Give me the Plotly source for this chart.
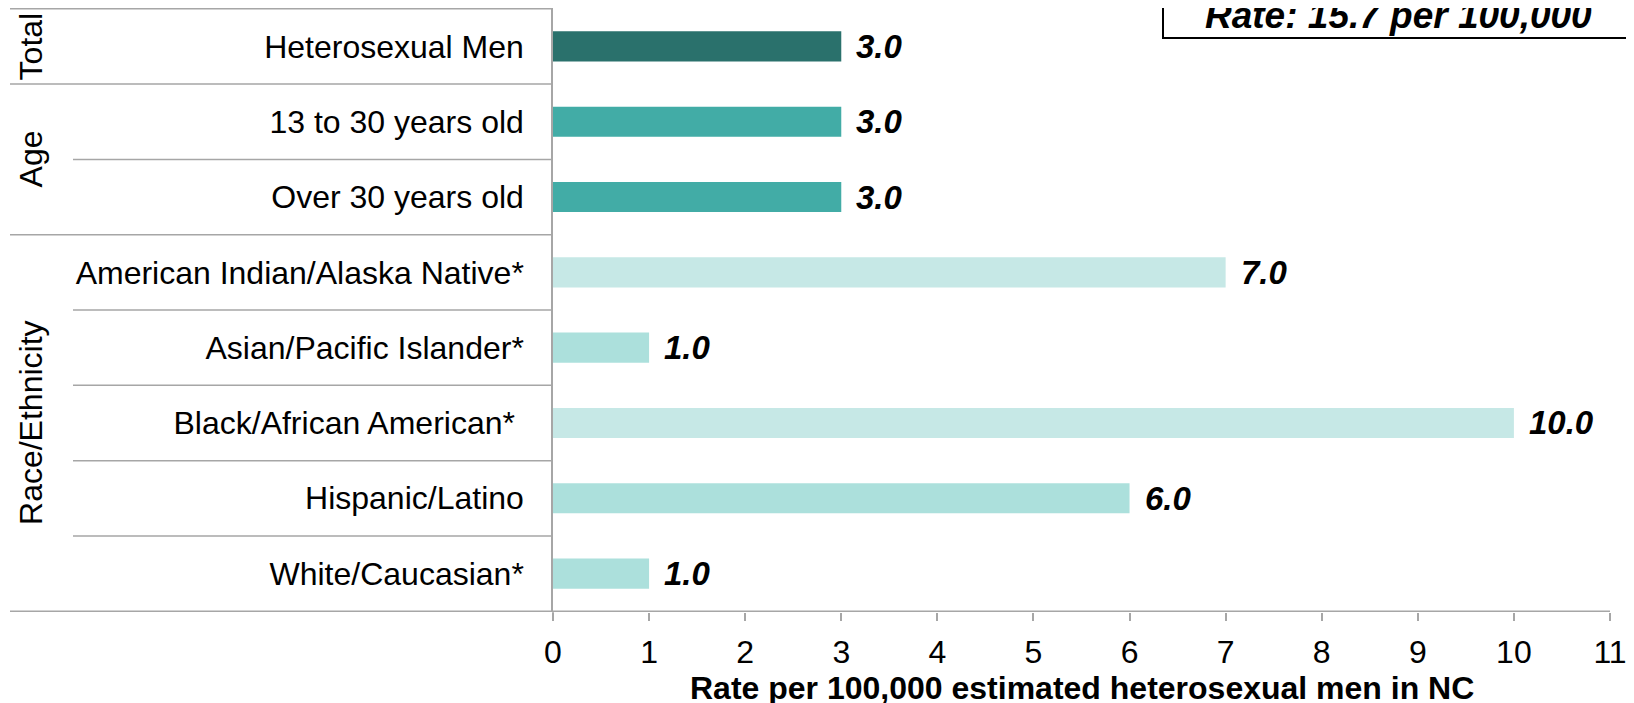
import plotly.graph_objects as go

categories = ["Heterosexual Men", "13 to 30 years old", "Over 30 years old",
              "American Indian/Alaska Native*", "Asian/Pacific Islander*",
              "Black/African American* ", "Hispanic/Latino", "White/Caucasian*"]
rates = [3.0, 3.0, 3.0, 7.0, 1.0, 10.0, 6.0, 1.0]
bar_colors = ["#2A716C", "#42ACA6", "#42ACA6", "#C6E8E6", "#ACE0DC",
              "#C6E8E6", "#ACE0DC", "#ACE0DC"]
groups = ["Total", "Age", "Race/Ethnicity"]
group_sizes = [1, 2, 5]
x_ticks = list(range(0, 12))
x_title = "Rate per 100,000 estimated heterosexual men in NC"
box_text = "Rate: 15.7 per 100,000"

FONT = "Liberation Sans, Arial, sans-serif"
LINE = "#A6A6A6"

OFF = 8  # page body margin
W, H = 1634, 703
# plot area in window pixels: x 553..1610, y 8..612
L = 553 - OFF
R = W - (1610 - OFF)
T = 8 - OFF
B = H - (612 - OFF)
pw = W - L - R
ph = H - T - B

def px_to_paper_x(px):
    return (px - OFF - L) / pw

def px_to_paper_y(py):
    return (H - B - (py - OFF)) / ph

fig = go.Figure(go.Bar(
    x=rates, y=categories, orientation="h",
    marker=dict(color=bar_colors, line=dict(width=0)),
    width=0.4, hoverinfo="skip",
))

annotations = []
for c, v in zip(categories, rates):
    annotations.append(dict(
        x=v, y=c, xref="x", yref="y", text=f"{v:.1f}", showarrow=False,
        xanchor="left", yanchor="middle", xshift=13,
        font=dict(family=FONT, size=33, color="black", weight="bold", style="italic"),
    ))

shapes = []
start = 0
for gi, n in enumerate(group_sizes):
    for k in range(1, n):
        yb = start + k - 0.5
        shapes.append(dict(type="line", xref="paper", yref="y",
                           x0=px_to_paper_x(73), x1=0, y0=yb, y1=yb,
                           line=dict(color=LINE, width=1.5)))
    yb = start - 0.5
    shapes.append(dict(type="line", xref="paper", yref="y",
                       x0=px_to_paper_x(10), x1=0, y0=yb, y1=yb,
                       line=dict(color=LINE, width=1.5)))
    annotations.append(dict(
        x=px_to_paper_x(31), y=start + (n - 1) / 2, xref="paper", yref="y",
        text=groups[gi], showarrow=False, textangle=-90,
        xanchor="center", yanchor="middle",
        font=dict(family=FONT, size=32, color="black"),
    ))
    start += n
shapes.append(dict(type="line", xref="paper", yref="y",
                   x0=px_to_paper_x(10), x1=1, y0=start - 0.5, y1=start - 0.5,
                   line=dict(color=LINE, width=1.5)))
shapes.append(dict(type="line", xref="paper", yref="paper",
                   x0=0, x1=0, y0=px_to_paper_y(612), y1=px_to_paper_y(620),
                   line=dict(color=LINE, width=1.5)))

# top-right rate box
shapes.append(dict(type="rect", xref="paper", yref="paper",
                   x0=px_to_paper_x(1163), x1=px_to_paper_x(1700),
                   y0=px_to_paper_y(38), y1=px_to_paper_y(-40),
                   line=dict(color="black", width=2), fillcolor="rgba(0,0,0,0)"))
annotations.append(dict(
    x=px_to_paper_x(1398), y=px_to_paper_y(16), xref="paper", yref="paper",
    text=box_text, showarrow=False, xanchor="center", yanchor="middle",
    font=dict(family=FONT, size=37, color="black", weight="bold", style="italic"),
))

# x-axis title as annotation for precise placement
annotations.append(dict(
    x=0.5, y=px_to_paper_y(688), xref="paper", yref="paper",
    text=x_title, showarrow=False, xanchor="center", yanchor="middle",
    font=dict(family=FONT, size=32, color="black", weight="bold"),
))

fig.update_layout(
    width=W, height=H,
    margin=dict(l=L, r=R, t=T, b=B, pad=0),
    paper_bgcolor="white", plot_bgcolor="white",
    showlegend=False,
    font=dict(family=FONT, color="black"),
    xaxis=dict(
        range=[0, 11], tickvals=x_ticks, ticktext=[str(t) for t in x_ticks],
        showgrid=False, zeroline=False, showline=False,
        ticks="outside", ticklen=8, tickcolor=LINE, tickwidth=1.5,
        ticklabelstandoff=4,
        tickfont=dict(family=FONT, size=32, color="black"),
    ),
    yaxis=dict(
        autorange="reversed", showgrid=False, zeroline=False,
        showline=True, linecolor=LINE, linewidth=1.5,
        ticks="", ticklabelstandoff=21,
        tickfont=dict(family=FONT, size=32, color="black"),
    ),
    shapes=shapes, annotations=annotations,
)

fig.write_html("out.html")
